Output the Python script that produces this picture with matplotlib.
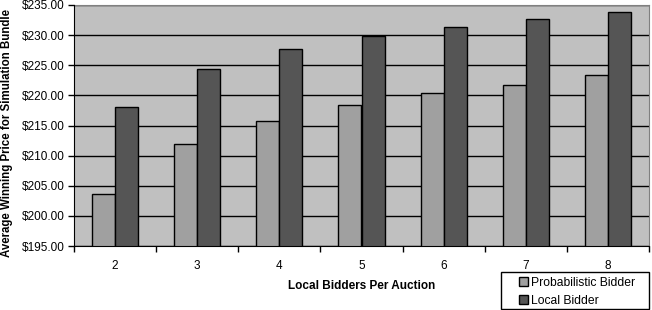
import numpy as np
import matplotlib.pyplot as plt
from matplotlib.patches import Rectangle
from matplotlib.ticker import FuncFormatter

bidders = ['2', '3', '4', '5', '6', '7', '8']
probabilistic = [203.6, 211.9, 215.7, 218.4, 220.4, 221.7, 223.4]
local = [218.0, 224.35, 227.7, 229.9, 231.3, 232.7, 233.8]

plt.rcParams['font.family'] = ['Liberation Sans', 'DejaVu Sans']

fig = plt.figure(figsize=(6.52, 3.10), dpi=100)
ax = fig.add_axes([74 / 652, 64 / 310, 575 / 652, 241 / 310])
ax.set_facecolor('#c0c0c0')

x = np.arange(len(bidders))
w = 0.28
ax.bar(x - w / 2, probabilistic, w, color='#a0a0a0', edgecolor='black',
       linewidth=1, label='Probabilistic Bidder', zorder=3)
ax.bar(x + w / 2, local, w, color='#555555', edgecolor='black',
       linewidth=1, label='Local Bidder', zorder=3)

ax.set_ylim(195, 235)
ax.set_yticks(np.arange(195, 236, 5))
ax.yaxis.set_major_formatter(FuncFormatter(lambda v, p: '${:.2f}'.format(v)))
ax.set_xlim(-0.5, len(bidders) - 0.5)
ax.set_xticks(x)
ax.set_xticklabels(bidders)
ax.set_xticks(np.arange(-0.5, len(bidders)), minor=True)
ax.tick_params(axis='x', which='major', length=0, pad=10, labelsize=8.5)
ax.tick_params(axis='x', which='minor', length=4, width=1, color='black')
ax.tick_params(axis='y', length=4, width=1, labelsize=8.5, pad=3)
ax.grid(axis='y', color='black', linewidth=1, zorder=0)

for s in ['left', 'bottom']:
    ax.spines[s].set_color('black')
    ax.spines[s].set_zorder(4)
for s in ['top', 'right']:
    ax.spines[s].set_color('#808080')

ax.set_xlabel('Local Bidders Per Auction', fontsize=8.5, fontweight='bold', labelpad=6)
ax.set_ylabel('Average Winning Price for Simulation Bundle', fontsize=8.3,
              fontweight='bold')
ax.yaxis.set_label_coords(-0.106, 0.47)

# legend box drawn separately so the padding matches the original
fig.add_artist(Rectangle((501 / 652, 1 / 310), 148 / 652, 37 / 310,
                         transform=fig.transFigure, fill=False,
                         edgecolor='black', linewidth=1))
fig.legend(loc='upper left', bbox_to_anchor=(519 / 652, 1 - 277 / 310),
           fontsize=8.7, frameon=False, handlelength=0.75, handleheight=0.75,
           handletextpad=0.25, borderpad=0, labelspacing=0.5, borderaxespad=0)

fig.savefig('out.png', dpi=100)
